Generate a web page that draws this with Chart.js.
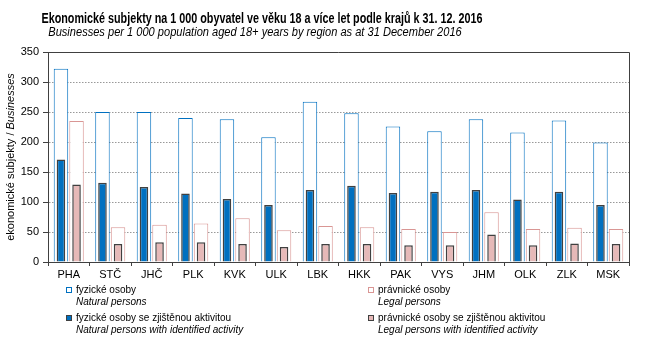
<!DOCTYPE html>
<html>
<head>
<meta charset="utf-8">
<script src="https://cdn.jsdelivr.net/npm/chart.js@4.4.1/dist/chart.umd.min.js"></script>
<style>
  body { margin: 0; background: #fff; }
  #wrap { position: relative; width: 645px; height: 340px; font-family: "Liberation Sans", Arial, sans-serif; color: #000; }
  #chart { position: absolute; left: 0; top: 0; }
  .title { position: absolute; left: -138px; width: 800px; top: 10px; text-align: center; font-weight: bold; font-size: 14px; line-height: 16px; white-space: nowrap; transform: scaleX(0.77); transform-origin: 400px 0; }
  .subtitle { position: absolute; left: -145px; width: 800px; top: 25px; text-align: center; font-style: italic; font-size: 12.5px; line-height: 14px; white-space: nowrap; transform: scaleX(0.886); transform-origin: 400px 0; }
  .lg { position: absolute; font-size: 10px; line-height: 12px; white-space: nowrap; }
  .lg .box { position: absolute; left: 0; top: 3px; width: 4px; height: 4px; border: 1px solid; }
  .lg .txt { position: absolute; left: 10px; top: 0; }
  .lg .en { font-style: italic; }
</style>
</head>
<body>
<div id="wrap">
  <canvas id="chart" width="645" height="340"></canvas>
  <div class="title">Ekonomické subjekty na 1 000 obyvatel ve věku 18 a více let podle krajů k 31. 12. 2016</div>
  <div class="subtitle">Businesses per 1 000 population aged 18+ years by region as at 31 December 2016</div>
  <div id="legend"></div>
</div>
<script>
// kraje a hodnoty na 1 000 obyvatel
const regions = ['PHA', 'STČ', 'JHČ', 'PLK', 'KVK', 'ULK', 'LBK', 'HKK', 'PAK', 'VYS', 'JHM', 'OLK', 'ZLK', 'MSK'];
const naturalAll    = [322, 250, 250, 240, 238, 208, 267, 248, 226, 218, 238, 216, 236, 199];
const naturalActive = [171, 132, 125, 114, 105,  95, 120, 127, 115, 117, 120, 104, 117,  95];
const legalAll      = [235,  58,  62,  64,  73,  53,  60,  58,  55,  50,  83,  55,  57,  55];
const legalActive   = [129,  30,  33,  33,  30,  25,  30,  30,  28,  28,  46,  28,  31,  30];
const yMax = 350;
const yStep = 50;

const BLUE = '#0070c0';
const PINK_LINE = '#d99694';
const PINK_FILL = '#e6b9b8';
const DARK = '#404040';
const FONT = '"Liberation Sans", Arial, sans-serif';

Chart.defaults.font.family = FONT;
Chart.defaults.font.size = 11;
Chart.defaults.color = '#000';

// celkem a "s aktivitou" sdílí jednu pozici ve skupině (stack), hodnoty se nesčítají (y.stacked = false)
const datasets = [
  { label: 'fyzické osoby se zjištěnou aktivitou', en: 'Natural persons with identified activity',
    data: naturalActive, stack: 'fyz', order: 0, barPercentage: 0.55,
    backgroundColor: BLUE, borderColor: DARK, borderWidth: 1.5 },
  { label: 'právnické osoby se zjištěnou aktivitou', en: 'Legal persons with identified activity',
    data: legalActive, stack: 'prav', order: 0, barPercentage: 0.55,
    backgroundColor: PINK_FILL, borderColor: DARK, borderWidth: 1.5 },
  { label: 'fyzické osoby', en: 'Natural persons',
    data: naturalAll, stack: 'fyz', order: 1, barPercentage: 0.93,
    backgroundColor: '#fff', borderColor: BLUE, borderWidth: 1 },
  { label: 'právnické osoby', en: 'Legal persons',
    data: legalAll, stack: 'prav', order: 1, barPercentage: 0.93,
    backgroundColor: '#fff', borderColor: PINK_LINE, borderWidth: 1 }
];

// horní a pravý okraj grafu
const frame = {
  id: 'frame',
  beforeDatasetsDraw(chart) {
    const { ctx, chartArea: a } = chart;
    ctx.save();
    ctx.strokeStyle = DARK;
    ctx.lineWidth = 1;
    ctx.beginPath();
    ctx.moveTo(Math.round(a.left), Math.round(a.top) + 0.5);
    ctx.lineTo(Math.round(a.right) + 0.5, Math.round(a.top) + 0.5);
    ctx.lineTo(Math.round(a.right) + 0.5, Math.round(a.bottom));
    ctx.stroke();
    ctx.restore();
  }
};

// popisek osy y: česká část obyčejně, anglická kurzívou
const yTitle = {
  id: 'yTitle',
  afterDraw(chart) {
    const { ctx, chartArea: a } = chart;
    const parts = [['ekonomické subjekty / ', 'normal'], ['Businesses', 'italic']];
    ctx.save();
    ctx.translate(11, (a.top + a.bottom) / 2);
    ctx.rotate(-Math.PI / 2);
    ctx.fillStyle = '#000';
    ctx.textBaseline = 'middle';
    const widths = parts.map(([t, s]) => { ctx.font = s + ' 11px ' + FONT; return ctx.measureText(t).width; });
    let x = -widths.reduce((p, w) => p + w, 0) / 2;
    parts.forEach(([t, s], i) => {
      ctx.font = s + ' 11px ' + FONT;
      ctx.fillText(t, x, 0);
      x += widths[i];
    });
    ctx.restore();
  }
};

new Chart(document.getElementById('chart'), {
  type: 'bar',
  data: { labels: regions, datasets: datasets.map(d => Object.assign({ categoryPercentage: 0.75 }, d)) },
  plugins: [frame, yTitle],
  options: {
    responsive: false,
    animation: false,
    layout: { padding: { top: 52, right: 16, left: 0, bottom: 0 } },
    plugins: { legend: { display: false }, tooltip: { enabled: false }, title: { display: false } },
    scales: {
      x: {
        offset: true,
        grid: { offset: true, drawOnChartArea: false, drawTicks: true, tickLength: 4, tickColor: DARK },
        border: { color: DARK, width: 1 },
        ticks: { padding: 2, maxRotation: 0 },
        afterFit: s => { s.height = 78; }
      },
      y: {
        stacked: false,
        min: 0, max: yMax,
        ticks: { stepSize: yStep, padding: 4 },
        grid: {
          color: c => (c.tick && c.tick.value > 0 && c.tick.value < yMax) ? '#999' : 'rgba(0,0,0,0)',
          tickColor: DARK, tickLength: 5, lineWidth: 1
        },
        border: { color: DARK, width: 1, dash: [1.5, 1.5] },
        afterFit: s => { s.width = 48; }
      }
    }
  }
});

// legenda ve dvou sloupcích
const legendLayout = [
  { ds: 2, left: 66, top: 284 },
  { ds: 0, left: 66, top: 312 },
  { ds: 3, left: 368, top: 284 },
  { ds: 1, left: 368, top: 312 }
];
const legendEl = document.getElementById('legend');
legendLayout.forEach(item => {
  const d = datasets[item.ds];
  const el = document.createElement('div');
  el.className = 'lg';
  el.style.left = item.left + 'px';
  el.style.top = item.top + 'px';
  el.innerHTML = '<span class="box" style="background:' + d.backgroundColor + ';border-color:' + d.borderColor + '"></span>' +
    '<span class="txt">' + d.label + '<br><span class="en">' + d.en + '</span></span>';
  legendEl.appendChild(el);
});
</script>
</body>
</html>
